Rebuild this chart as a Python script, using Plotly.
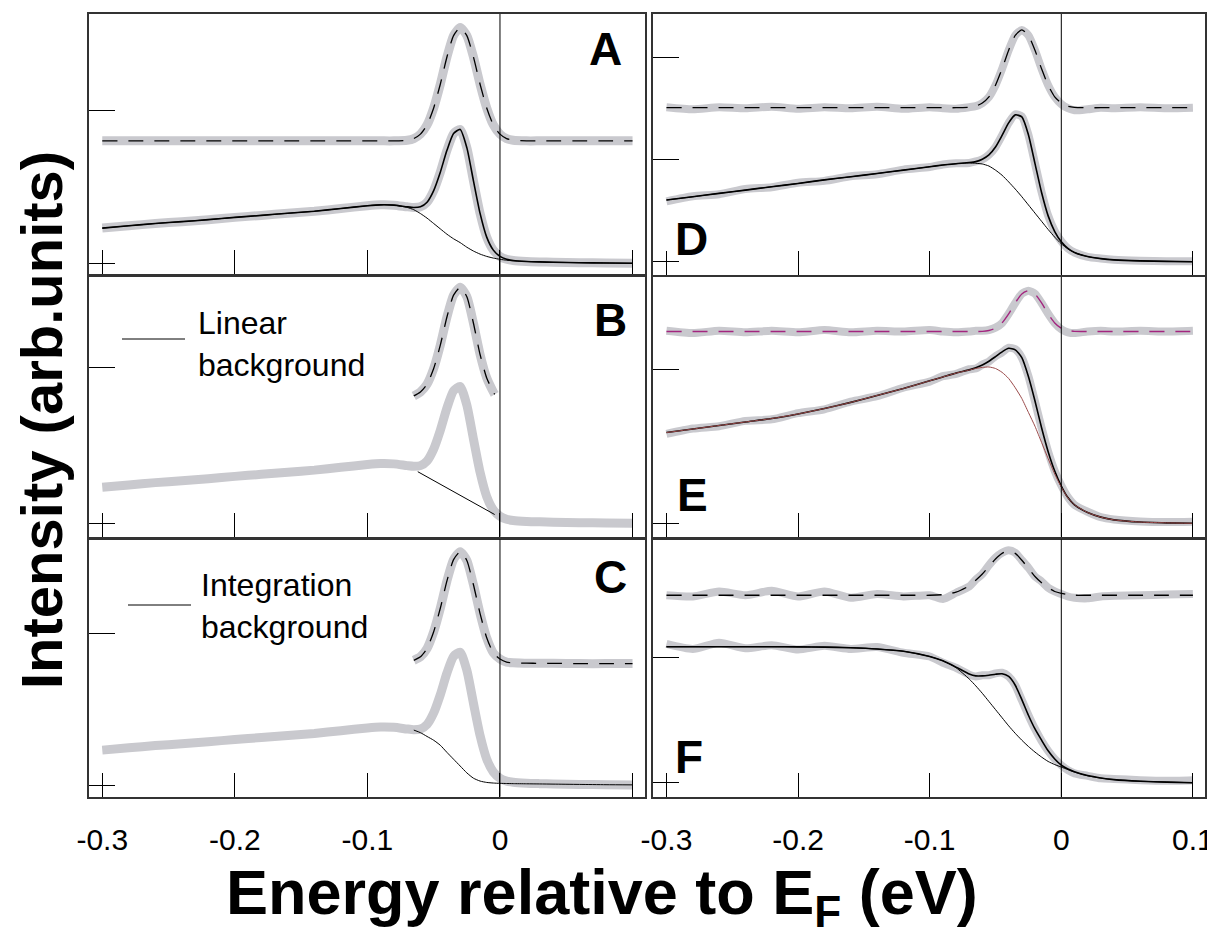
import plotly.graph_objects as go

# energy grid (eV) shared by most curves
ENERGY = [-0.30, -0.28, -0.26, -0.24, -0.22, -0.20, -0.18, -0.16, -0.14, -0.12,
          -0.10, -0.09, -0.08, -0.07, -0.065, -0.06, -0.055, -0.05, -0.045, -0.04,
          -0.035, -0.03, -0.025, -0.02, -0.015, -0.01, -0.005, 0.0, 0.005, 0.01,
          0.02, 0.03, 0.04, 0.06, 0.08, 0.10]

# left column (same spectrum in A, B, C)
LEFT_SPEC = [0.23, 0.245, 0.26, 0.272, 0.285, 0.30, 0.313, 0.327, 0.34, 0.358,
             0.376, 0.382, 0.38, 0.369, 0.365, 0.369, 0.399, 0.475, 0.595, 0.738,
             0.848, 0.875, 0.756, 0.539, 0.326, 0.171, 0.086, 0.045, 0.026, 0.018,
             0.012, 0.009, 0.007, 0.004, 0.002, 0.0]
A_BG = [0.23, 0.245, 0.26, 0.272, 0.285, 0.30, 0.313, 0.327, 0.34, 0.358,
        0.376, 0.382, 0.38, 0.365, 0.35, 0.325, 0.295, 0.26, 0.225, 0.19,
        0.16, 0.135, 0.105, 0.08, 0.06, 0.045, 0.034, 0.026, 0.02, 0.016,
        0.012, 0.009, 0.007, 0.004, 0.002, 0.0]
A_PEAK = [0.80, 0.80, 0.80, 0.80, 0.80, 0.80, 0.80, 0.80, 0.80, 0.80,
          0.80, 0.80, 0.80, 0.804, 0.815, 0.844, 0.904, 1.015, 1.17, 1.348,
          1.488, 1.54, 1.488, 1.348, 1.17, 1.015, 0.904, 0.844, 0.815, 0.804,
          0.80, 0.80, 0.80, 0.80, 0.80, 0.80]

B_PEAK_E = [-0.065, -0.06, -0.055, -0.05, -0.045, -0.04, -0.035, -0.03, -0.025,
            -0.02, -0.015, -0.01, -0.005, -0.004]
B_PEAK = [0.815, 0.84, 0.89, 0.99, 1.14, 1.32, 1.46, 1.51, 1.45, 1.28, 1.08,
          0.93, 0.84, 0.825]
B_LINEAR_E = [-0.062, -0.004]
B_LINEAR = [0.33, 0.056]

C_ENERGY = [-0.065, -0.06, -0.055, -0.05, -0.045, -0.04, -0.035, -0.03, -0.025,
            -0.02, -0.015, -0.01, -0.005, 0.0, 0.005, 0.01, 0.02, 0.03, 0.04,
            0.06, 0.08, 0.10]
C_PEAK = [0.822, 0.845, 0.90, 1.01, 1.165, 1.345, 1.485, 1.538, 1.48, 1.32, 1.13,
          0.97, 0.87, 0.83, 0.81, 0.805, 0.803, 0.802, 0.802, 0.80, 0.80, 0.80]
C_BG = [0.362, 0.345, 0.32, 0.295, 0.262, 0.215, 0.17, 0.125, 0.08, 0.045, 0.026,
        0.017, 0.013, 0.011, 0.01, 0.009, 0.008, 0.007, 0.006, 0.004, 0.002, 0.001]

# panel D
D_DATA = [0.59, 0.64, 0.66, 0.71, 0.728, 0.772, 0.79, 0.835, 0.855, 0.90,
          0.925, 0.95, 0.962, 0.965, 0.98, 1.0, 1.045, 1.12, 1.235, 1.357,
          1.44, 1.42, 1.24, 0.96, 0.68, 0.45, 0.30, 0.2, 0.13, 0.09,
          0.048, 0.032, 0.02, 0.01, 0.005, 0.005]
D_FIT = [0.603, 0.635, 0.668, 0.70, 0.733, 0.765, 0.80, 0.83, 0.862, 0.895,
         0.928, 0.945, 0.958, 0.969, 0.978, 1.002, 1.044, 1.121, 1.235, 1.357,
         1.435, 1.415, 1.241, 0.959, 0.676, 0.448, 0.295, 0.195, 0.131, 0.09,
         0.05, 0.03, 0.018, 0.008, 0.003, 0.0]
D_BG = [0.603, 0.635, 0.668, 0.70, 0.733, 0.765, 0.80, 0.83, 0.862, 0.895,
        0.928, 0.945, 0.958, 0.965, 0.962, 0.955, 0.935, 0.895, 0.845, 0.78,
        0.71, 0.635, 0.555, 0.475, 0.395, 0.315, 0.24, 0.175, 0.125, 0.09,
        0.05, 0.03, 0.018, 0.008, 0.003, 0.0]
D_PEAK_DATA = [1.51, 1.49, 1.51, 1.50, 1.515, 1.495, 1.51, 1.50, 1.515, 1.495,
               1.51, 1.50, 1.495, 1.51, 1.52, 1.55, 1.61, 1.725, 1.885, 2.067,
               2.212, 2.265, 2.212, 2.067, 1.885, 1.725, 1.611, 1.54, 1.50, 1.48,
               1.49, 1.505, 1.50, 1.51, 1.50, 1.505]
D_PEAK = [1.505, 1.505, 1.505, 1.505, 1.505, 1.505, 1.505, 1.505, 1.505, 1.505,
          1.505, 1.505, 1.505, 1.509, 1.52, 1.551, 1.611, 1.725, 1.885, 2.067,
          2.212, 2.265, 2.212, 2.067, 1.885, 1.725, 1.611, 1.551, 1.52, 1.509,
          1.505, 1.505, 1.505, 1.505, 1.505, 1.505]

# panel E
E_DATA = [0.58, 0.615, 0.63, 0.665, 0.675, 0.715, 0.74, 0.79, 0.825, 0.88,
          0.92, 0.955, 0.97, 1.0, 1.005, 1.03, 1.05, 1.085, 1.11, 1.14,
          1.13, 1.075, 0.955, 0.79, 0.62, 0.465, 0.34, 0.245, 0.17, 0.12,
          0.075, 0.04, 0.025, 0.012, 0.008, 0.01]
E_FIT = [0.589, 0.612, 0.635, 0.658, 0.68, 0.71, 0.745, 0.785, 0.83, 0.875,
         0.925, 0.95, 0.975, 0.996, 1.01, 1.028, 1.052, 1.082, 1.113, 1.136,
         1.126, 1.075, 0.953, 0.794, 0.62, 0.465, 0.339, 0.242, 0.167, 0.12,
         0.07, 0.04, 0.022, 0.008, 0.003, 0.0]
E_BG = [0.589, 0.612, 0.635, 0.658, 0.68, 0.71, 0.745, 0.785, 0.83, 0.875,
        0.925, 0.95, 0.975, 0.995, 1.005, 1.012, 1.015, 1.005, 0.98, 0.94,
        0.88, 0.81, 0.72, 0.63, 0.525, 0.42, 0.32, 0.235, 0.165, 0.12,
        0.07, 0.04, 0.022, 0.008, 0.003, 0.0]
E_PEAK_DATA = [1.25, 1.235, 1.25, 1.24, 1.25, 1.24, 1.255, 1.24, 1.25, 1.245,
               1.255, 1.245, 1.24, 1.245, 1.25, 1.25, 1.255, 1.27, 1.30, 1.36,
               1.43, 1.49, 1.51, 1.49, 1.43, 1.36, 1.30, 1.26, 1.24, 1.235,
               1.245, 1.25, 1.245, 1.25, 1.245, 1.25]
E_PEAK = [1.245, 1.245, 1.245, 1.245, 1.245, 1.245, 1.245, 1.245, 1.245, 1.245,
          1.245, 1.245, 1.245, 1.245, 1.245, 1.246, 1.252, 1.266, 1.301, 1.359,
          1.431, 1.489, 1.51, 1.489, 1.431, 1.359, 1.301, 1.266, 1.252, 1.246,
          1.245, 1.245, 1.245, 1.245, 1.245, 1.245]

# panel F
F_DATA = [1.11, 1.07, 1.12, 1.075, 1.10, 1.065, 1.095, 1.07, 1.085, 1.04,
          1.01, 0.96, 0.92, 0.865, 0.85, 0.86, 0.86, 0.875, 0.88, 0.85,
          0.78, 0.66, 0.54, 0.43, 0.335, 0.255, 0.19, 0.14, 0.10, 0.075,
          0.055, 0.035, 0.03, 0.02, 0.015, 0.02]
F_FIT = [1.088, 1.088, 1.088, 1.088, 1.088, 1.087, 1.085, 1.08, 1.07, 1.052,
         1.01, 0.975, 0.925, 0.87, 0.855, 0.855, 0.86, 0.868, 0.872, 0.85,
         0.78, 0.665, 0.54, 0.43, 0.34, 0.255, 0.19, 0.141, 0.11, 0.088,
         0.057, 0.038, 0.025, 0.012, 0.005, 0.0]
F_BG = [1.088, 1.088, 1.088, 1.088, 1.088, 1.087, 1.085, 1.08, 1.07, 1.052,
        1.01, 0.975, 0.92, 0.83, 0.775, 0.715, 0.65, 0.585, 0.52, 0.455,
        0.395, 0.34, 0.29, 0.245, 0.205, 0.17, 0.145, 0.125, 0.105, 0.085,
        0.055, 0.037, 0.025, 0.012, 0.005, 0.0]
F_PEAK_DATA = [1.50, 1.49, 1.53, 1.50, 1.535, 1.49, 1.53, 1.48, 1.51, 1.49,
               1.50, 1.47, 1.52, 1.57, 1.625, 1.67, 1.74, 1.80, 1.84, 1.86,
               1.84, 1.78, 1.72, 1.65, 1.61, 1.56, 1.53, 1.51, 1.49, 1.48,
               1.475, 1.49, 1.495, 1.50, 1.505, 1.51]
F_PEAK = [1.50, 1.50, 1.50, 1.50, 1.50, 1.50, 1.50, 1.50, 1.50, 1.50,
          1.50, 1.505, 1.525, 1.575, 1.62, 1.67, 1.73, 1.79, 1.835, 1.855,
          1.835, 1.78, 1.715, 1.65, 1.60, 1.56, 1.53, 1.515, 1.505, 1.50,
          1.50, 1.50, 1.50, 1.50, 1.50, 1.50]

# tick marks; the left column leaves 0.1 unlabeled (minor tick only)
XTICKS_LEFT = [-0.3, -0.2, -0.1, 0]
XLABELS_LEFT = ["-0.3", "-0.2", "-0.1", "0"]
XTICKS_LEFT_EXTRA = [0.1]
XTICKS_RIGHT = [-0.3, -0.2, -0.1, 0, 0.1]
XLABELS_RIGHT = ["-0.3", "-0.2", "-0.1", "0", "0.1"]

W, H = 1215, 934
OFF = 8  # page body margin of the browser, compensated below
GRAY = "#c9c9ce"
FONT = "Liberation Sans, Arial, Helvetica, sans-serif"

fig = go.Figure()


def add_line(ax, x, y, color, width, dash=None):
    fig.add_trace(go.Scatter(
        x=x, y=y, mode="lines",
        line=dict(color=color, width=width, dash=dash, shape="spline", smoothing=0.6),
        xaxis="x" + ax, yaxis="y" + ax, showlegend=False, hoverinfo="skip"))


DASH = "15px,11px"

# A
add_line("", ENERGY, A_PEAK, GRAY, 9)
add_line("", ENERGY, LEFT_SPEC, GRAY, 9)
add_line("", ENERGY, A_PEAK, "black", 1.3, DASH)
add_line("", ENERGY, A_BG, "black", 1)
add_line("", ENERGY, LEFT_SPEC, "black", 1.6)

# B
add_line("2", B_PEAK_E, B_PEAK, GRAY, 9)
add_line("2", ENERGY, LEFT_SPEC, GRAY, 9)
add_line("2", B_PEAK_E, B_PEAK, "black", 1.3, DASH)
add_line("2", B_LINEAR_E, B_LINEAR, "black", 1)

# C
add_line("3", C_ENERGY, C_PEAK, GRAY, 9)
add_line("3", ENERGY, LEFT_SPEC, GRAY, 9)
add_line("3", C_ENERGY, C_PEAK, "black", 1.3, DASH)
add_line("3", C_ENERGY, C_BG, "black", 1)

# D
add_line("4", ENERGY, D_PEAK_DATA, GRAY, 8)
add_line("4", ENERGY, D_DATA, GRAY, 8)
add_line("4", ENERGY, D_PEAK, "black", 1.3, DASH)
add_line("4", ENERGY, D_BG, "black", 1)
add_line("4", ENERGY, D_FIT, "black", 1.6)

# E
add_line("5", ENERGY, E_PEAK_DATA, GRAY, 8)
add_line("5", ENERGY, E_DATA, GRAY, 8)
add_line("5", ENERGY, E_PEAK, "#a3267f", 1.4, DASH)
add_line("5", ENERGY, E_FIT, "black", 1.6)
add_line("5", ENERGY, E_BG, "#9a4a4a", 1)

# F
add_line("6", ENERGY, F_PEAK_DATA, GRAY, 8)
add_line("6", ENERGY, F_DATA, GRAY, 8)
add_line("6", ENERGY, F_PEAK, "black", 1.3, DASH)
add_line("6", ENERGY, F_BG, "black", 1)
add_line("6", ENERGY, F_FIT, "black", 1.6)


def px(x):
    return (x - OFF) / W


def py(y):
    return 1 - (y - OFF) / H


def xdom(a, b):
    return [px(a), px(b)]


def ydom(top, bottom):
    return [py(bottom), py(top)]


LEFT = xdom(89, 645)
RIGHT = xdom(653.3, 1205.3)
panels = [
    ("", LEFT, ydom(14, 274), [-0.070, 1.629], [0, 1], False, "left"),
    ("2", LEFT, ydom(277, 536.7), [-0.086, 1.576], [0, 1], False, "left"),
    ("3", LEFT, ydom(539.5, 796.7), [-0.077, 1.618], [0, 1], True, "left"),
    ("4", RIGHT, ydom(14, 274.5), [-0.125, 2.421], [0, 1, 2], False, "right"),
    ("5", RIGHT, ydom(277, 536.7), [-0.087, 1.599], [0, 1], False, "right"),
    ("6", RIGHT, ydom(539.5, 796.7), [-0.112, 1.946], [0, 1], True, "right"),
]

layout = {}
shapes = []
for ax, xd, yd, yr, ytv, labels, side in panels:
    xaxis = dict(
        domain=xd, range=[-0.31, 0.1094], anchor="y" + ax, automargin=False,
        showline=True, mirror=True, linecolor="#333", linewidth=1.5,
        ticks="inside", ticklen=24, tickwidth=1, tickcolor="black",
        showticklabels=labels,
        tickfont=dict(family=FONT, size=30, color="black"),
        ticklabelstandoff=16, showgrid=False, zeroline=False, fixedrange=True)
    if side == "left":
        xaxis.update(tickvals=XTICKS_LEFT, ticktext=XLABELS_LEFT,
                     minor=dict(tickvals=XTICKS_LEFT_EXTRA, ticks="inside",
                                ticklen=24, tickwidth=1, tickcolor="black",
                                showgrid=False))
    else:
        xaxis.update(tickvals=XTICKS_RIGHT, ticktext=XLABELS_RIGHT)
    layout["xaxis" + ax] = xaxis
    layout["yaxis" + ax] = dict(
        domain=yd, range=yr, anchor="x" + ax, automargin=False,
        showline=True, mirror=True, linecolor="#333", linewidth=1.5,
        ticks="inside", ticklen=26, tickwidth=1, tickcolor="black",
        tickvals=ytv, showticklabels=False, showgrid=False, zeroline=False,
        fixedrange=True)
    shapes.append(dict(type="line", xref="x" + ax, yref="y" + ax + " domain",
                       x0=0, x1=0, y0=0, y1=1, line=dict(color="black", width=1)))

# legend strokes for the background labels
shapes.append(dict(type="line", xref="paper", yref="paper",
                   x0=px(122), x1=px(185), y0=py(339), y1=py(339),
                   line=dict(color="black", width=1)))
shapes.append(dict(type="line", xref="paper", yref="paper",
                   x0=px(128), x1=px(191), y0=py(605), y1=py(605),
                   line=dict(color="black", width=1)))


def note(text, x, y, size, bold=False, xanchor="center", angle=0, align="center"):
    return dict(text="<b>" + text + "</b>" if bold else text,
                xref="paper", yref="paper", x=px(x), y=py(y),
                xanchor=xanchor, yanchor="middle", showarrow=False,
                textangle=angle, align=align, borderpad=0,
                font=dict(family=FONT, size=size, color="black"))


annotations = [
    note("A", 605, 49, 46, True),
    note("B", 610, 320, 46, True),
    note("C", 610, 577, 46, True),
    note("D", 691, 239, 46, True),
    note("E", 692, 495, 46, True),
    note("F", 689, 757, 46, True),
    note("Linear<br>background", 197, 344, 32, xanchor="left", align="left"),
    note("Integration<br>background", 200, 606, 32, xanchor="left", align="left"),
    note("Intensity (arb.units)", 41, 420, 58, True, angle=-90),
    note("Energy relative to E<sub>F</sub> (eV)", 602, 896, 63, True),
]

fig.update_layout(
    width=W, height=H, margin=dict(l=0, r=0, t=0, b=0),
    paper_bgcolor="white", plot_bgcolor="white",
    shapes=shapes, annotations=annotations, **layout)

fig.write_html("out.html")
